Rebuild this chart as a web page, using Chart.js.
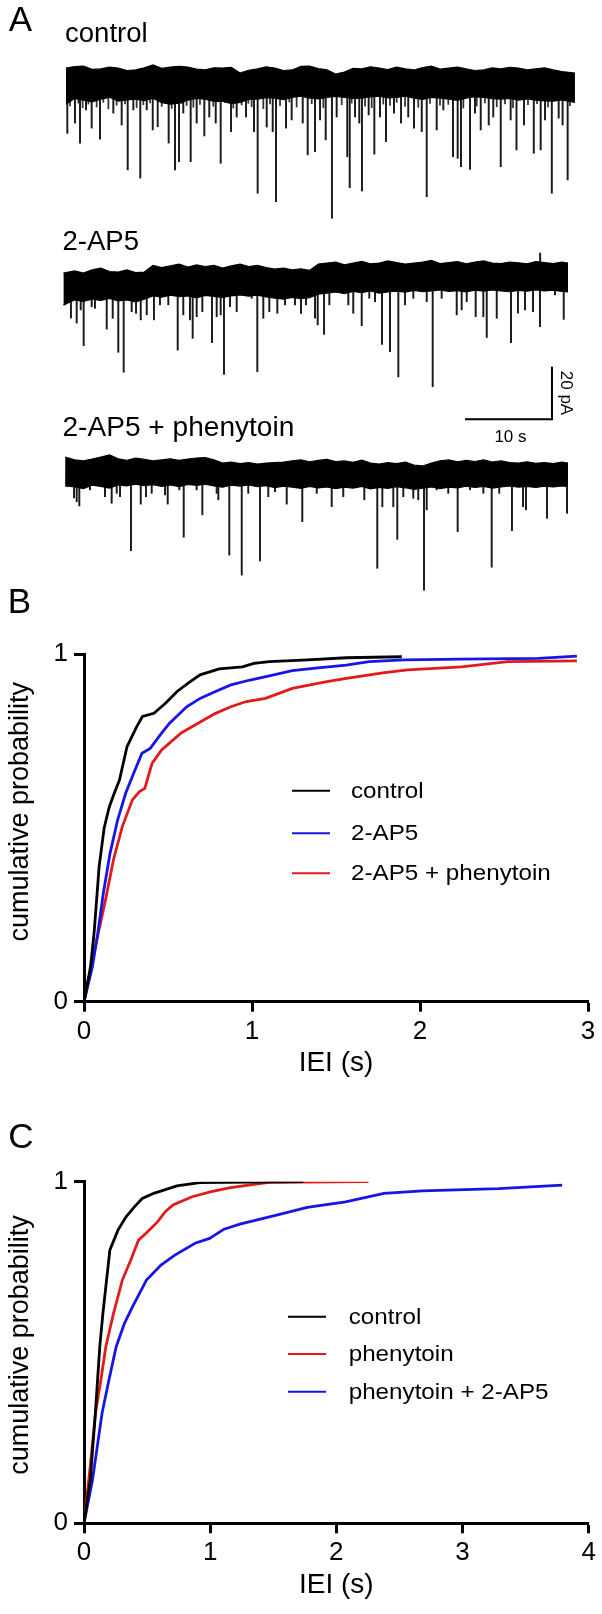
<!DOCTYPE html>
<html><head><meta charset="utf-8">
<script src="https://cdn.jsdelivr.net/npm/chart.js@4.4.1/dist/chart.umd.min.js"></script>
<style>
html,body{margin:0;padding:0;background:#fff;}
body{width:602px;height:1614px;position:relative;overflow:hidden;}
canvas{position:absolute;left:0;}
</style></head><body>
<canvas id="cA" width="602" height="600" style="top:0;width:602px;height:600px"></canvas>
<canvas id="cB" width="602" height="505" style="top:585px;width:602px;height:505px"></canvas>
<canvas id="cC" width="602" height="524" style="top:1090px;width:602px;height:524px"></canvas>
<script>
// ================= DATA =================
// Panel A: traces (time in s, current in pA relative to each trace's baseline)
const traceNames = ['control', '2-AP5', '2-AP5 + phenytoin'];
const scaleBarSeconds = 10, scaleBarPA = 20;
const scaleBarLabels = ['10 s', '20 pA'];

const ctrlEnvT = [0,1,2,3,4,5,6,7,8,9,10,11,12,13,14,15,16,17,18,19,20,21,22,23,24,25,26,27,28,29,30,31,32,33,34,35,36,37,38,39,40,41,42,43,44,45,46,47,48,49,50,51,52,53,54,55,56,57,58.5];
const ctrlTop = [4.9,5.5,5.7,4.4,4.6,5.3,4.9,4.0,4.2,5.0,6.1,4.8,5.3,5.6,5.3,4.5,4.2,5.0,4.9,5.2,3.0,4.1,4.6,5.4,4.9,4.0,4.2,5.6,5.7,4.7,4.2,2.6,3.4,4.8,4.6,5.4,4.9,4.3,5.3,4.6,4.2,5.1,5.7,4.5,4.9,5.3,4.6,4.0,4.2,5.0,4.6,5.2,4.9,4.2,4.6,5.0,4.2,3.6,3.0];
const ctrlBottom = [-8.8,-6.6,-7.3,-7.9,-6.9,-6.2,-7.7,-7.2,-6.9,-7.5,-6.5,-8.2,-8.8,-8.4,-7.3,-6.6,-6.9,-7.8,-7.7,-8.6,-8.1,-7.0,-6.9,-6.3,-6.5,-7.1,-6.2,-5.8,-6.5,-6.8,-6.2,-5.9,-6.2,-6.6,-6.5,-6.0,-5.8,-6.4,-6.2,-5.8,-6.5,-7.0,-6.2,-6.5,-6.9,-7.4,-6.5,-6.0,-6.2,-6.7,-6.9,-6.6,-7.3,-6.8,-7.3,-7.6,-7.7,-7.2,-8.1];
const ctrlSpikeT = [0.15,1.03,1.61,2.30,2.95,3.91,5.44,6.40,7.09,7.74,8.54,9.28,9.97,10.54,11.80,12.53,12.99,13.48,14.33,15.02,15.90,16.47,17.21,17.78,18.97,19.62,20.69,21.61,22.03,23.07,23.76,24.14,25.29,25.94,27.21,27.78,28.62,29.20,29.85,30.57,31.11,32.33,32.61,33.22,33.71,34.02,34.79,35.44,36.09,36.78,37.70,38.51,39.34,40.00,40.89,41.46,42.61,43.37,44.48,45.02,45.40,46.44,47.01,47.67,48.59,49.11,49.97,51.11,51.78,52.64,53.77,54.56,55.06,55.84,56.63,57.08,57.66];
const ctrlSpikeAmp = [-19.9,-16.0,-23.6,-11.0,-17.9,-22.1,-12.2,-16.7,-33.8,-11.0,-36.9,-11.0,-18.6,-17.4,-23.6,-33.8,-30.7,-12.2,-30.7,-16.0,-20.9,-13.7,-16.0,-31.3,-19.3,-13.7,-13.7,-19.3,-42.7,-17.5,-19.3,-45.9,-17.9,-14.8,-16.0,-28.1,-26.9,-14.8,-22.4,-52.2,-13.7,-28.8,-40.6,-13.7,-16.0,-41.8,-12.9,-27.8,-13.7,-23.1,-12.2,-16.0,-13.7,-17.9,-19.3,-44.0,-18.6,-11.0,-28.8,-29.4,-32.6,-33.6,-12.2,-18.6,-16.7,-13.7,-32.6,-14.8,-26.2,-16.7,-27.5,-26.2,-14.8,-42.7,-14.1,-16.7,-37.6];
// small events forming the fringe under the control baseline
const ctrlSmallT = [0.46,1.42,1.91,2.57,3.52,4.29,4.87,5.82,6.78,8.12,8.89,9.66,11.00,12.15,13.30,13.87,14.64,15.40,16.93,18.28,19.23,20.19,20.96,21.34,22.68,23.45,24.60,25.67,26.51,28.24,29.58,31.69,32.84,34.37,35.14,36.47,37.24,38.01,38.97,40.49,41.84,42.99,43.94,45.67,47.21,48.16,49.51,50.46,51.38,53.10,54.14,55.40,57.93];
const ctrlSmallAmp = [-9.5,-8.4,-10.2,-8.8,-9.9,-8.1,-10.6,-9.2,-8.7,-10.1,-9.0,-8.3,-9.7,-10.4,-8.6,-9.3,-10.0,-8.9,-9.6,-8.2,-10.3,-9.1,-8.5,-9.8,-10.5,-8.7,-9.4,-8.0,-9.9,-8.6,-10.2,-9.0,-8.4,-9.6,-10.1,-8.8,-9.3,-8.1,-9.7,-10.0,-8.5,-9.2,-8.9,-10.3,-9.5,-8.3,-9.8,-8.7,-10.1,-9.0,-8.6,-9.9,-9.4];

const ap5EnvT = [-0.3,1,2,3,4,5,6,7,8,9,10,11,12,13,14,15,16,17,18,19,20,21,22,23,24,25,26,27,28,29,30,31,32,33,34,35,36,37,38,39,40,41,42,43,44,45,46,47,48,49,50,51,52,53,54,55,56,57,57.7];
const ap5Top = [3.4,4.2,3.4,4.6,5.3,4.0,3.8,4.6,3.6,3.8,6.3,5.5,6.1,6.8,5.7,6.5,5.9,6.3,5.3,6.1,6.8,5.9,6.3,5.5,4.9,5.3,4.6,5.0,4.4,6.8,7.2,7.6,6.5,7.2,7.8,6.9,7.2,8.0,7.4,6.8,7.2,7.6,8.2,7.0,7.4,7.8,6.9,7.6,8.0,7.2,7.0,7.6,7.3,6.9,7.8,7.4,7.0,7.6,7.2];
const ap5Bottom = [-8.7,-6.8,-7.4,-6.5,-7.0,-6.2,-7.2,-6.8,-7.6,-6.5,-5.3,-5.8,-5.0,-5.6,-5.3,-6.0,-5.1,-5.5,-5.9,-5.3,-4.9,-5.4,-5.0,-5.7,-6.1,-6.5,-5.9,-6.3,-6.0,-4.6,-4.2,-3.8,-4.4,-3.6,-4.0,-3.4,-4.2,-3.8,-3.5,-3.9,-3.2,-3.7,-3.4,-3.0,-3.6,-3.3,-3.8,-3.1,-3.5,-3.0,-3.4,-3.7,-3.2,-3.5,-3.0,-3.4,-3.1,-3.6,-3.8];
const ap5SpikeT = [-0.11,0.57,1.23,1.69,2.03,2.95,3.33,4.68,5.37,6.01,6.63,7.55,8.05,8.59,9.28,10.11,10.80,11.76,12.84,13.48,14.25,14.56,15.02,15.67,16.78,17.32,17.78,18.16,18.85,19.62,21.34,21.99,22.68,23.37,24.29,25.17,26.32,27.01,27.59,28.62,28.93,29.66,30.27,32.45,33.02,33.99,34.86,35.52,36.32,37.24,38.20,38.97,39.92,41.46,42.15,43.18,44.91,45.48,46.06,47.09,47.97,48.36,49.51,51.15,51.95,52.76,53.68,54.48,54.50,56.21,57.21];
const ap5SpikeAmp = [-8.7,-13.7,-15.6,-10.6,-24.2,-9.4,-10.0,-17.9,-13.8,-26.7,-34.3,-11.3,-11.9,-14.4,-12.5,-14.4,-8.7,-8.7,-25.9,-12.5,-14.4,-21.4,-13.2,-11.3,-23.1,-13.2,-12.5,-35.1,-9.4,-11.3,-6.2,-34.1,-13.8,-11.3,-11.9,-8.7,-8.7,-11.9,-8.7,-13.8,-16.3,-19.9,-8.7,-8.7,-11.9,-16.6,-6.2,-7.5,-23.7,-26.5,-36.1,-8.7,-6.2,-7.5,-39.8,-6.2,-12.5,-10.6,-7.5,-13.2,-13.2,-21.1,-13.8,-23.1,-11.8,-10.6,-11.3,-17.0,11.0,-4.9,-14.2];

const phenEnvT = [-0.1,1,2,3,4,5,6,7,8,9,10,11,12,13,14,15,16,17,18,19,20,21,22,23,24,25,26,27,28,29,30,31,32,33,34,35,36,37,38,39,40,41,42,43,44,45,46,47,48,49,50,51,52,53,54,55,56,57,57.7];
const phenTop = [5.7,4.6,4.2,4.9,5.7,6.5,5.0,4.4,5.3,4.8,4.2,4.6,5.0,4.4,4.9,5.3,5.5,4.6,3.4,3.8,3.2,3.6,3.0,3.4,3.6,3.8,4.2,4.6,3.9,4.4,4.8,4.0,4.2,3.7,4.5,3.4,3.0,3.6,3.2,3.8,2.6,2.3,3.4,4.2,4.6,3.9,4.4,4.0,4.6,3.8,4.2,3.6,3.4,3.9,3.3,3.6,3.2,3.8,3.4];
const phenBottom = [-5.2,-5.7,-6.3,-5.0,-5.5,-6.1,-4.9,-5.3,-4.6,-5.2,-4.8,-5.5,-4.9,-5.6,-4.7,-5.1,-4.6,-5.3,-5.8,-5.0,-5.4,-4.9,-5.6,-5.2,-5.9,-5.4,-5.8,-6.2,-5.5,-6.0,-5.7,-6.3,-5.8,-6.1,-5.5,-6.4,-5.9,-6.2,-5.6,-6.0,-6.6,-6.1,-5.7,-6.3,-5.8,-6.0,-5.4,-5.9,-5.5,-6.1,-5.7,-5.3,-5.8,-5.5,-5.9,-5.4,-5.7,-5.3,-5.6];
const phenSpikeT = [0.08,0.92,1.23,1.53,2.76,4.48,5.25,5.83,6.21,7.47,8.59,9.20,9.85,11.38,11.69,13.02,13.53,15.02,15.67,17.32,17.51,18.77,20.20,20.95,22.30,23.25,24.02,25.37,27.16,28.82,30.54,31.87,34.29,35.78,36.36,37.62,38.08,38.77,39.92,40.49,41.15,41.46,42.61,43.94,45.02,46.44,47.97,48.93,49.80,51.26,52.53,52.87,55.29,57.59];
const phenSpikeAmp = [-5.6,-9.9,-11.3,-12.9,-6.8,-9.4,-11.9,-8.1,-9.4,-29.9,-12.2,-9.4,-8.1,-8.7,-12.2,-6.8,-24.8,-6.8,-16.3,-8.1,-10.6,-31.6,-39.2,-8.1,-33.8,-9.4,-7.5,-12.2,-18.9,-8.1,-13.2,-9.4,-10.6,-36.6,-13.2,-13.2,-25.6,-9.4,-10.0,-10.6,-44.9,-14.4,-6.8,-8.1,-22.7,-6.8,-8.1,-36.2,-8.1,-22.3,-13.2,-14.4,-17.6,-15.7];

// Panel B: cumulative probability of IEI (s)
const bLabels = ['control', '2-AP5', '2-AP5 + phenytoin'];
const bCtrlT = [0,0.039,0.060,0.090,0.120,0.150,0.180,0.211,0.256,0.314,0.348,0.416,0.485,0.554,0.622,0.691,0.805,0.943,1.011,1.103,1.332,1.561,1.892];
const bCtrlP = [0,0.101,0.197,0.389,0.500,0.560,0.600,0.638,0.734,0.792,0.821,0.830,0.859,0.893,0.918,0.941,0.958,0.964,0.974,0.979,0.984,0.990,0.993];
const bAp5T = [0,0.050,0.082,0.115,0.155,0.200,0.248,0.295,0.345,0.394,0.462,0.508,0.611,0.691,0.783,0.874,0.989,1.103,1.240,1.378,1.561,1.698,1.904,2.247,2.705,2.934];
const bAp5P = [0,0.101,0.197,0.312,0.427,0.523,0.600,0.657,0.715,0.729,0.773,0.801,0.849,0.873,0.893,0.912,0.926,0.938,0.953,0.960,0.969,0.979,0.984,0.986,0.988,0.995];
const bPhenT = [0,0.035,0.085,0.128,0.175,0.228,0.288,0.330,0.362,0.405,0.462,0.577,0.645,0.783,0.874,0.966,1.080,1.240,1.446,1.561,1.789,1.927,2.247,2.522,2.934];
const bPhenP = [0,0.082,0.197,0.293,0.408,0.504,0.581,0.605,0.614,0.686,0.725,0.773,0.792,0.830,0.849,0.864,0.873,0.902,0.921,0.931,0.947,0.955,0.964,0.979,0.981];
const bXTicks = [0, 1, 2, 3];
const bYTicks = [0, 1];

// Panel C
const cLabels = ['control', 'phenytoin', 'phenytoin + 2-AP5'];
const cCtrlT = [0,0.050,0.090,0.125,0.150,0.205,0.270,0.335,0.401,0.462,0.553,0.736,0.918,1.739];
const cCtrlP = [0,0.127,0.322,0.517,0.615,0.800,0.859,0.898,0.927,0.951,0.966,0.988,0.997,1.0];
const cPhenT = [0,0.052,0.091,0.134,0.173,0.234,0.304,0.371,0.432,0.492,0.584,0.644,0.705,0.857,1.009,1.161,1.465,2.255];
const cPhenP = [0,0.176,0.322,0.420,0.517,0.615,0.712,0.771,0.829,0.849,0.883,0.912,0.932,0.956,0.971,0.983,0.998,1.0];
const cAp5T = [0,0.067,0.143,0.198,0.255,0.320,0.385,0.495,0.610,0.720,0.880,0.995,1.110,1.235,1.526,1.769,2.073,2.377,2.681,3.289,3.790];
const cAp5P = [0,0.127,0.322,0.420,0.517,0.585,0.634,0.712,0.756,0.785,0.820,0.834,0.861,0.876,0.902,0.925,0.941,0.966,0.973,0.980,0.990];
const cXTicks = [0, 1, 2, 3, 4];
const cYTicks = [0, 1];

const xTitle = 'IEI (s)';
const yTitle = 'cumulative probability';

// ================= STYLE / LAYOUT =================
const FONT = "'Liberation Sans', Arial, Helvetica, sans-serif";
const BLACK = '#000000', BLUE = '#1515e8', RED = '#e31a1a';
const PX_PER_S = 8.7, PX_PER_PA = 2.63, A_W = 602, A_H = 600, A_X0 = 66;
const traceBasePx = [81, 282, 472];
const scaleBarCornerT = 55.86, scaleBarCornerPx = 419.3;

Chart.defaults.font.family = FONT;

function wideText(ctx, text, x, y, sx) {
  ctx.save(); ctx.translate(x, y); ctx.scale(sx, 1); ctx.fillText(text, 0, 0); ctx.restore();
}

// ---------- Panel A ----------
function spikeBars(spT, spA, off, color, w) {
  return { type: 'bar', data: spT.map((t, i) => ({ x: t, y: [off, spA[i] + off] })), backgroundColor: color, barThickness: w, grouped: false, borderWidth: 0 };
}
function traceDatasets(envT, top, bottom, spT, spA, off) {
  return [
    { type: 'line', data: envT.map((t, i) => ({ x: t, y: top[i] + off })), borderColor: BLACK, borderWidth: 1.2, pointRadius: 0, tension: 0, fill: false },
    { type: 'line', data: envT.map((t, i) => ({ x: t, y: bottom[i] + off })), borderColor: BLACK, borderWidth: 1.2, pointRadius: 0, tension: 0, fill: '-1', backgroundColor: BLACK },
    spikeBars(spT, spA, off, '#1a1a1a', 1.3)
  ];
}
const offs = traceBasePx.map(p => -p / PX_PER_PA);
const aDatasets = [].concat(
  traceDatasets(ctrlEnvT, ctrlTop, ctrlBottom, ctrlSpikeT, ctrlSpikeAmp, offs[0]),
  [spikeBars(ctrlSmallT, ctrlSmallAmp, offs[0], '#333333', 1.1)],
  traceDatasets(ap5EnvT, ap5Top, ap5Bottom, ap5SpikeT, ap5SpikeAmp, offs[1]),
  traceDatasets(phenEnvT, phenTop, phenBottom, phenSpikeT, phenSpikeAmp, offs[2])
);

const panelAText = {
  id: 'panelAText',
  afterDraw(chart) {
    const ctx = chart.ctx, xs = chart.scales.x, ys = chart.scales.y;
    ctx.save();
    ctx.fillStyle = BLACK;
    ctx.font = '35px ' + FONT; ctx.textAlign = 'center'; ctx.textBaseline = 'middle';
    ctx.fillText('A', 20.5, 21);
    ctx.font = '27px ' + FONT; ctx.textAlign = 'left'; ctx.textBaseline = 'alphabetic';
    wideText(ctx, traceNames[0], 65, 41.7, 1.02);
    wideText(ctx, traceNames[1], 62.5, 249.5, 1.02);
    wideText(ctx, traceNames[2], 62.5, 435.5, 1.04);
    // scale bar
    const vB = -scaleBarCornerPx / PX_PER_PA;
    const xR = xs.getPixelForValue(scaleBarCornerT), xL = xs.getPixelForValue(scaleBarCornerT - scaleBarSeconds);
    const yB = ys.getPixelForValue(vB), yT = ys.getPixelForValue(vB + scaleBarPA);
    ctx.strokeStyle = BLACK; ctx.lineWidth = 2;
    ctx.beginPath(); ctx.moveTo(xL, yB); ctx.lineTo(xR, yB); ctx.lineTo(xR, yT); ctx.stroke();
    ctx.font = '17px ' + FONT; ctx.textAlign = 'center'; ctx.textBaseline = 'middle';
    ctx.fillText(scaleBarLabels[0], (xL + xR) / 2 + 2, yB + 18);
    ctx.save(); ctx.translate(xR + 14, (yB + yT) / 2); ctx.rotate(Math.PI / 2);
    ctx.fillText(scaleBarLabels[1], 0, 0); ctx.restore();
    ctx.restore();
  }
};

new Chart(document.getElementById('cA'), {
  type: 'line',
  data: { datasets: aDatasets },
  options: {
    responsive: false, animation: false, devicePixelRatio: 1, events: [],
    layout: { padding: 0 },
    plugins: { legend: { display: false }, tooltip: { enabled: false } },
    scales: {
      x: { type: 'linear', display: false, offset: false, min: -A_X0 / PX_PER_S, max: -A_X0 / PX_PER_S + A_W / PX_PER_S },
      y: { type: 'linear', display: false, min: -A_H / PX_PER_PA, max: 0 }
    }
  },
  plugins: [panelAText]
});

// ---------- Panels B, C ----------
const cdfPlugin = {
  id: 'cdfExtras',
  afterDraw(chart) {
    const o = chart.options.plugins.cdfExtras, ctx = chart.ctx;
    ctx.save();
    ctx.fillStyle = BLACK;
    ctx.font = '35px ' + FONT; ctx.textAlign = 'center'; ctx.textBaseline = 'middle';
    ctx.fillText(o.panel, o.panelX, o.panelY);
    // y title
    ctx.font = '27px ' + FONT;
    ctx.save(); ctx.translate(21, o.yTitleY); ctx.rotate(-Math.PI / 2);
    ctx.fillText(yTitle, 0, 0); ctx.restore();
    // legend
    ctx.font = '22px ' + FONT; ctx.textAlign = 'left'; ctx.textBaseline = 'middle';
    o.items.forEach((it, i) => {
      const y = o.legY[i];
      ctx.strokeStyle = it.color; ctx.lineWidth = 2;
      ctx.beginPath(); ctx.moveTo(o.legX0, y); ctx.lineTo(o.legX1, y); ctx.stroke();
      wideText(ctx, it.label, o.legTX, y + 1, 1.1);
    });
    ctx.restore();
  }
};

function cdfChart(id, series, xTicks, yTicks, g) {
  const tickFont = { size: 26, family: FONT };
  return new Chart(document.getElementById(id), {
    type: 'line',
    data: {
      datasets: series.map(s => ({
        label: s.label, data: s.t.map((v, i) => ({ x: v, y: s.p[i] })),
        borderColor: s.color, borderWidth: 2.8, pointRadius: 0, tension: 0, fill: false
      }))
    },
    options: {
      responsive: false, animation: false, devicePixelRatio: 1, events: [],
      layout: { padding: { left: 0, right: g.padRight, top: g.padTop, bottom: 0 } },
      plugins: {
        legend: { display: false }, tooltip: { enabled: false },
        cdfExtras: {
          panel: g.panel, panelX: g.panelX, panelY: g.panelY, yTitleY: g.yTitleY,
          items: series.map(s => ({ label: s.label, color: s.color })),
          legX0: g.legX0, legX1: g.legX1, legTX: g.legTX, legY: g.legY
        }
      },
      scales: {
        x: {
          type: 'linear', min: xTicks[0], max: xTicks[xTicks.length - 1], offset: false,
          afterBuildTicks: s => { s.ticks = xTicks.map(v => ({ value: v })); },
          afterFit: s => { s.height = g.xAxisH; },
          ticks: { font: tickFont, color: BLACK, padding: g.xTickPad, maxRotation: 0, autoSkip: false, callback: v => String(v) },
          grid: { display: true, drawOnChartArea: false, drawTicks: true, tickLength: 10, tickWidth: 3, tickColor: BLACK },
          border: { display: true, color: BLACK, width: 3 },
          title: { display: true, text: xTitle, color: BLACK, font: { size: 28, family: FONT }, padding: { top: 0, bottom: g.xTitlePad } }
        },
        y: {
          type: 'linear', min: yTicks[0], max: yTicks[yTicks.length - 1],
          afterBuildTicks: s => { s.ticks = yTicks.map(v => ({ value: v })); },
          afterFit: s => { s.width = 84; },
          ticks: { font: tickFont, color: BLACK, padding: 6, autoSkip: false, callback: v => String(v) },
          grid: { display: true, drawOnChartArea: false, drawTicks: true, tickLength: 10, tickWidth: 3, tickColor: BLACK },
          border: { display: true, color: BLACK, width: 3 },
          title: { display: false }
        }
      }
    },
    plugins: [cdfPlugin]
  });
}

cdfChart('cB', [
  { label: bLabels[0], t: bCtrlT, p: bCtrlP, color: BLACK },
  { label: bLabels[1], t: bAp5T, p: bAp5P, color: BLUE },
  { label: bLabels[2], t: bPhenT, p: bPhenP, color: RED }
], bXTicks, bYTicks, {
  panel: 'B', panelX: 19.5, panelY: 18, yTitleY: 811.7 - 585,
  padRight: 14, padTop: 69.3, xAxisH: 88.3, xTickPad: 4.4, xTitlePad: 10.3,
  legX0: 292, legX1: 330, legTX: 351, legY: [205.7, 248.3, 288.3]
});

cdfChart('cC', [
  { label: cLabels[0], t: cCtrlT, p: cCtrlP, color: BLACK },
  { label: cLabels[1], t: cPhenT, p: cPhenP, color: RED },
  { label: cLabels[2], t: cAp5T, p: cAp5P, color: BLUE }
], cXTicks, cYTicks, {
  panel: 'C', panelX: 21, panelY: 48, yTitleY: 1345 - 1090,
  padRight: 13.3, padTop: 91.7, xAxisH: 90.7, xTickPad: 4.1, xTitlePad: 12.3,
  legX0: 288, legX1: 326, legTX: 348.7, legY: [226.7, 264, 301.7]
});
</script>
</body></html>
